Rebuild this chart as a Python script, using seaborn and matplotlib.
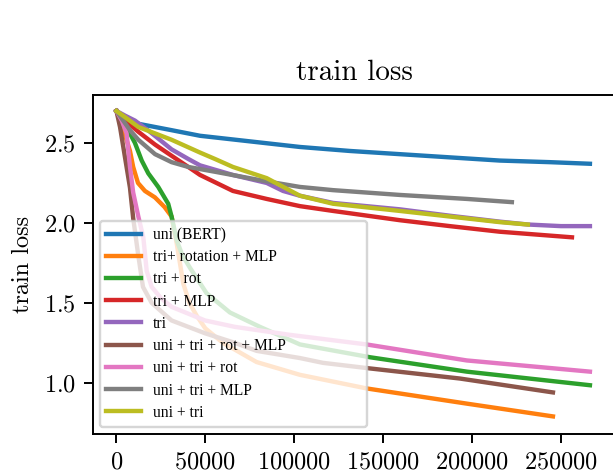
import numpy as np
import pandas as pd
import matplotlib
matplotlib.use("Agg")
import matplotlib.pyplot as plt
import seaborn as sns

plt.rcParams['font.family'] = ['cmr10', 'DejaVu Serif']
plt.rcParams['axes.formatter.use_mathtext'] = True
plt.rcParams['mathtext.fontset'] = 'cm'

labels = ["uni (BERT)", "tri+ rotation + MLP", "tri + rot", "tri + MLP", "tri",
          "uni + tri + rot + MLP", "uni + tri + rot", "uni + tri + MLP", "uni + tri"]

x_uni = [0, 4000, 12300, 31000, 47000, 75100, 103200, 131300, 159400, 187500, 215600, 243800, 266300]
y_uni = [2.70, 2.66, 2.62, 2.58, 2.545, 2.51, 2.475, 2.45, 2.43, 2.41, 2.39, 2.38, 2.37]

x_tri_rot_mlp = [0, 4800, 7600, 9400, 12100, 16000, 21600, 27000, 31000, 33900, 37600, 41000,
                 45100, 50000, 59900, 78800, 103200, 140700, 197000, 245500]
y_tri_rot_mlp = [2.70, 2.55, 2.45, 2.35, 2.25, 2.20, 2.16, 2.10, 2.04, 1.87, 1.62, 1.50,
                 1.42, 1.34, 1.25, 1.13, 1.05, 0.965, 0.87, 0.79]

x_tri_rot = [0, 3000, 6600, 10400, 14200, 17900, 23500, 29100, 31000, 33900, 37000, 41300,
             50700, 63800, 80700, 103200, 142600, 197000, 266300]
y_tri_rot = [2.70, 2.64, 2.58, 2.50, 2.39, 2.31, 2.225, 2.12, 2.04, 1.89, 1.80, 1.72,
             1.56, 1.44, 1.35, 1.24, 1.16, 1.07, 0.985]

x_tri_mlp = [0, 5000, 12300, 21700, 31000, 40400, 47000, 65500, 84500, 103200, 121800,
             159400, 187500, 215600, 256200]
y_tri_mlp = [2.70, 2.64, 2.57, 2.49, 2.42, 2.35, 2.30, 2.20, 2.15, 2.105, 2.075,
             2.017, 1.98, 1.945, 1.91]

x_tri = [0, 5000, 10400, 18800, 31000, 40400, 47000, 65500, 84500, 93700, 103200, 121800,
         159400, 187500, 215600, 231400, 250000, 266300]
y_tri = [2.70, 2.67, 2.64, 2.57, 2.46, 2.40, 2.36, 2.30, 2.25, 2.20, 2.17, 2.125,
         2.085, 2.045, 2.008, 1.99, 1.98, 1.98]

x_uni_tri_rot_mlp = [0, 2000, 4800, 7600, 9400, 12100, 14900, 19800, 31000, 49800, 66600,
                     78800, 103200, 116100, 142600, 193100, 245500]
y_uni_tri_rot_mlp = [2.70, 2.60, 2.41, 2.22, 2.03, 1.81, 1.60, 1.50, 1.39, 1.31, 1.25,
                     1.20, 1.155, 1.125, 1.09, 1.027, 0.94]

x_uni_tri_rot = [0, 3000, 5700, 7600, 9400, 12300, 15100, 17000, 19800, 25000, 31000,
                 49800, 66600, 97600, 140700, 197000, 266300]
y_uni_tri_rot = [2.70, 2.64, 2.56, 2.35, 2.19, 2.04, 1.91, 1.70, 1.60, 1.53, 1.475,
                 1.39, 1.35, 1.30, 1.24, 1.14, 1.07]

x_uni_tri_mlp = [0, 7600, 12300, 21700, 31000, 40400, 55400, 84500, 103200, 121800,
                 159400, 197200, 222400]
y_uni_tri_mlp = [2.70, 2.58, 2.52, 2.43, 2.38, 2.35, 2.32, 2.26, 2.225, 2.205,
                 2.175, 2.15, 2.13]

x_uni_tri = [0, 5000, 12300, 31000, 47000, 55400, 65500, 84500, 103200, 121800,
             159400, 187500, 215600, 231400]
y_uni_tri = [2.70, 2.66, 2.60, 2.52, 2.44, 2.40, 2.35, 2.28, 2.17, 2.12,
             2.075, 2.04, 2.005, 1.99]

xs = [x_uni, x_tri_rot_mlp, x_tri_rot, x_tri_mlp, x_tri,
      x_uni_tri_rot_mlp, x_uni_tri_rot, x_uni_tri_mlp, x_uni_tri]
ys = [y_uni, y_tri_rot_mlp, y_tri_rot, y_tri_mlp, y_tri,
      y_uni_tri_rot_mlp, y_uni_tri_rot, y_uni_tri_mlp, y_uni_tri]

frames = []
for lab, xx, yy in zip(labels, xs, ys):
    frames.append(pd.DataFrame({"step": xx, "loss": yy, "run": lab}))
df = pd.concat(frames, ignore_index=True)

DPI = 175
fig = plt.figure(figsize=(613 / DPI, 475 / DPI), dpi=DPI)
ax = fig.add_axes([93 / 613, 41 / 475, 522 / 613, 339 / 475])

sns.lineplot(data=df, x="step", y="loss", hue="run", hue_order=labels,
             palette=sns.color_palette("tab10", 9), estimator=None, sort=True,
             linewidth=1.8, legend=False, ax=ax)

ax.set_xlim(-13200, 280400)
ax.set_ylim(0.68, 2.80)
ax.set_xticks([0, 50000, 100000, 150000, 200000, 250000])
ax.set_yticks([1.0, 1.5, 2.0, 2.5])
ax.set_xlabel("")
ax.set_ylabel("train loss")
ax.set_title("train loss")

ax.legend(ax.get_lines(), labels, loc="lower left",
          prop={"family": ["Liberation Serif", "DejaVu Serif"], "size": 6.4},
          bbox_to_anchor=(0, 0, 0.5377, 1), mode="expand",
          handlelength=2.25, handletextpad=0.75, labelspacing=0.4,
          borderaxespad=0.45)

fig.savefig("out.png", dpi=DPI)
